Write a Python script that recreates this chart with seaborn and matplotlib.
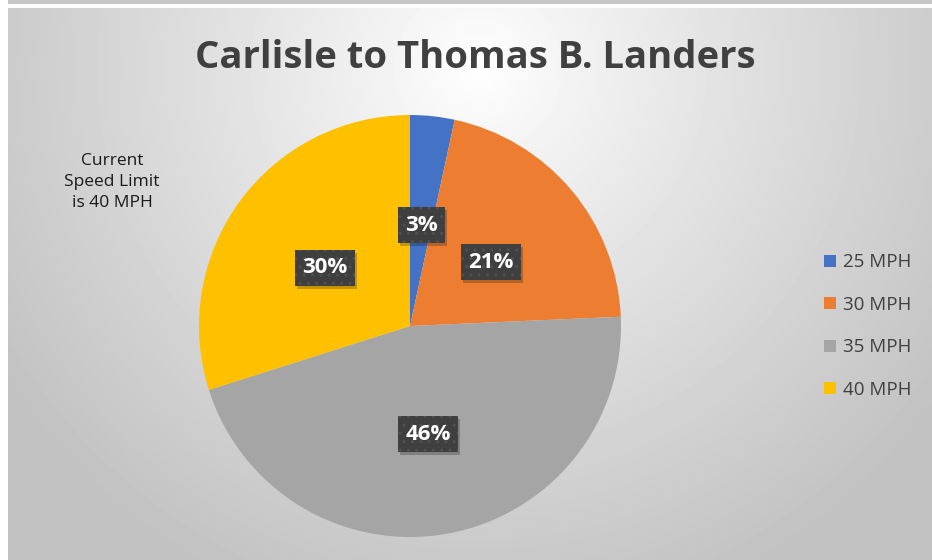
import numpy as np
import matplotlib.pyplot as plt
import seaborn as sns

# Data
categories = ['25 MPH', '30 MPH', '35 MPH', '40 MPH']
shares = [3.4, 20.9, 45.8, 29.9]
pct_labels = ['3%', '21%', '46%', '30%']
colors = ['#4472C4', '#ED7D31', '#A5A5A5', '#FFC000']
title = 'Carlisle to Thomas B. Landers'
note = 'Current\nSpeed Limit\nis 40 MPH'

sns.set_theme(style='white')
plt.rcParams['font.family'] = ['Open Sans', 'DejaVu Sans']

W, H = 932, 560
fig = plt.figure(figsize=(W / 100, H / 100), dpi=100)
fig.patch.set_facecolor('white')

# top grey strip of the screenshot
strip = fig.add_axes([8 / W, 1 - 4 / H, 1 - 8 / W, 4 / H])
strip.set_axis_off()
strip.add_patch(plt.Rectangle((0, 0), 1, 1, color='#c6c6c6', transform=strip.transAxes))

# chart area with radial gradient
bg = fig.add_axes([8 / W, 0, 1 - 8 / W, 1 - 8 / H])
bg.set_axis_off()
yy, xx = np.mgrid[0:552, 0:924]
d = np.sqrt(((xx - 470) / 620.0) ** 2 + ((yy - 60) / 620.0) ** 2)
shade = np.clip(1.0 - 0.26 * d ** 0.9, 0.76, 1.0)
bg.imshow(shade, cmap='gray', vmin=0, vmax=1, aspect='auto', interpolation='bilinear')

# pie
cx, cy, r = 410, 326, 211
ax = fig.add_axes([(cx - r) / W, (H - cy - r) / H, 2 * r / W, 2 * r / H])
ax.set_axis_off()
wedges, _ = ax.pie(shares, colors=colors, startangle=90, counterclock=False,
                   radius=1, wedgeprops=dict(linewidth=0))
ax.set_xlim(-1, 1)
ax.set_ylim(-1, 1)

# data labels at half radius
labels = []
cum = np.cumsum([0] + shares[:-1])
for start, val, lab in zip(cum, shares, pct_labels):
    mid = np.deg2rad(90 - (start + val / 2) / sum(shares) * 360)
    t = ax.text(0.5 * np.cos(mid), 0.5 * np.sin(mid) - 0.02, lab, ha='center', va='center',
                fontsize=16, fontweight='bold', color='white', zorder=5,
                bbox=dict(boxstyle='square,pad=0.33', facecolor='#3f3f3f',
                          edgecolor='#505050', hatch='..', linewidth=0))
    labels.append(t)

# soft drop shadow behind each label box
fig.canvas.draw()
for t in labels:
    bb = t.get_bbox_patch().get_window_extent()
    ax.add_patch(plt.Rectangle((bb.x0 + 2, bb.y0 - 3), bb.width, bb.height,
                               transform=None, facecolor='black', alpha=0.22,
                               linewidth=0, zorder=4, clip_on=False))

# title
fig.text(475 / W, 1 - 58 / H, title, ha='center', va='center',
         fontsize=27.5, fontweight='bold', color='#404040')

# note
fig.text(112 / W, 1 - 182 / H, note, ha='center', va='center',
         fontsize=12.5, color='#1a1a1a', linespacing=1.4)

# legend
handles = [plt.Line2D([], [], marker='s', linestyle='', markersize=9,
                      markerfacecolor=c, markeredgewidth=0) for c in colors]
leg = fig.legend(handles, categories, loc='center left',
                 bbox_to_anchor=(806 / W, 1 - 326 / H), frameon=False,
                 fontsize=13.5, labelspacing=1.3, handletextpad=0.25,
                 handlelength=0.8)
for txt in leg.get_texts():
    txt.set_color('#404040')

fig.savefig('out.png', dpi=100)
